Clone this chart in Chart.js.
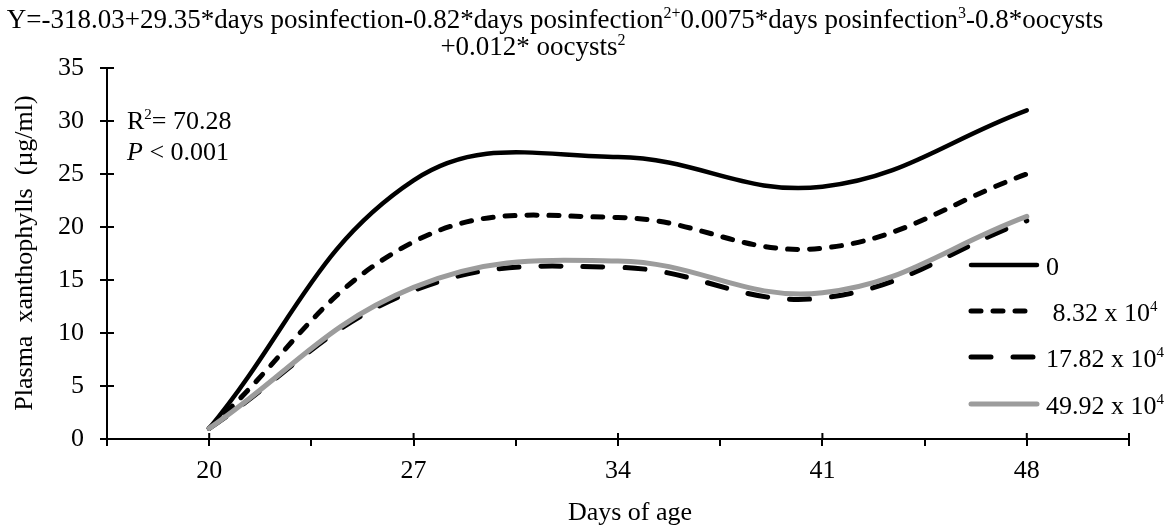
<!DOCTYPE html>
<html>
<head>
<meta charset="utf-8">
<script src="https://cdn.jsdelivr.net/npm/chart.js@4.4.1/dist/chart.umd.min.js"></script>
<style>
  html, body { margin: 0; padding: 0; background: #fff; }
  #wrap { width: 1168px; height: 528px; position: relative; }
</style>
</head>
<body>
<div id="wrap"><canvas id="chart"></canvas></div>
<script>
// ---- Data ----
const days = [20, 27, 34, 41, 48];
const xan0 = [1, 24.4, 26.6, 23.8, 31.0];      // 0 oocysts
const xan832 = [1, 18.6, 20.9, 18.0, 25.0];    // 8.32 x 10^4
const xan1782 = [1, 14.0, 16.2, 13.3, 20.6];   // 17.82 x 10^4
const xan4992 = [1, 14.3, 16.8, 13.8, 21.0];   // 49.92 x 10^4
const seriesNames = ['0', ' 8.32 x 10', '17.82 x 10', '49.92 x 10'];
const seriesSup = ['', '4', '4', '4'];
const xLabels = [20, 27, 34, 41, 48];

const SERIF = '"Liberation Serif", "Times New Roman", serif';
const FS = 26;

function pts(vals) {
  return vals.map((v, i) => ({ x: days[i], y: v }));
}

// draw text made of pieces (normal / superscript / italic)
function drawRich(ctx, parts, x, y, align, size) {
  size = size || FS;
  const fontOf = p => (p.it ? 'italic ' : '') + Math.round(p.sup ? size * 0.58 : size) + 'px ' + SERIF;
  const widths = parts.map(p => { ctx.font = fontOf(p); return ctx.measureText(p.t).width; });
  const total = widths.reduce((a, b) => a + b, 0);
  let cx = align === 'center' ? x - total / 2 : x;
  ctx.textAlign = 'left';
  ctx.textBaseline = 'middle';
  parts.forEach((p, i) => {
    ctx.font = fontOf(p);
    ctx.fillText(p.t, cx, p.sup ? y - size * 0.25 : y);
    cx += widths[i];
  });
}

const decorations = {
  id: 'decorations',
  afterDraw(chart) {
    const ctx = chart.ctx;
    const xs = chart.scales.x, ys = chart.scales.y;
    ctx.save();
    ctx.fillStyle = '#000';
    ctx.strokeStyle = '#000';
    ctx.lineWidth = 2;

    // inner half of the tick marks
    ctx.beginPath();
    ys.ticks.forEach(t => {
      const py = ys.getPixelForValue(t.value);
      ctx.moveTo(xs.left, py); ctx.lineTo(xs.left + 7, py);
    });
    xs.ticks.forEach((t, i) => {
      const major = xLabels.includes(t.value) || i === 0 || i === xs.ticks.length - 1;
      if (!major) return;
      const px = xs.getPixelForValue(t.value);
      ctx.moveTo(px, ys.bottom); ctx.lineTo(px, ys.bottom - 6);
    });
    ctx.stroke();

    // title (regression equation)
    drawRich(ctx, [
      { t: 'Y=-318.03+29.35*days posinfection-0.82*days posinfection' },
      { t: '2+', sup: true },
      { t: '0.0075*days posinfection' },
      { t: '3', sup: true },
      { t: '-0.8*oocysts' }
    ], 555, 21, 'center', 27);
    drawRich(ctx, [{ t: '+0.012* oocysts' }, { t: '2', sup: true }], 533, 48, 'center', 27);

    // fit statistics
    drawRich(ctx, [{ t: 'R' }, { t: '2', sup: true }, { t: '= 70.28' }], 127, 122, 'left');
    drawRich(ctx, [{ t: 'P', it: true }, { t: ' < 0.001' }], 127, 153, 'left');

    // axis titles
    drawRich(ctx, [{ t: 'Days of age' }], 630, 513, 'center');
    ctx.save();
    ctx.translate(25, 253);
    ctx.rotate(-Math.PI / 2);
    drawRich(ctx, [{ t: 'Plasma  xanthophylls  (\u00b5g/ml)' }], 0, 0, 'center');
    ctx.restore();

    // legend
    const rows = [265, 311, 357, 404];
    chart.data.datasets.forEach((ds, i) => {
      ctx.save();
      ctx.strokeStyle = ds.borderColor;
      ctx.lineWidth = ds.borderWidth;
      ctx.lineCap = ds.borderCapStyle;
      ctx.setLineDash(ds.borderDash || []);
      ctx.beginPath();
      ctx.moveTo(971, rows[i]); ctx.lineTo(1037, rows[i]);
      ctx.stroke();
      ctx.restore();
      drawRich(ctx, [{ t: seriesNames[i] }, { t: seriesSup[i], sup: true }], 1046, rows[i] + 3, 'left');
    });
    ctx.restore();
  }
};

new Chart(document.getElementById('chart'), {
  type: 'line',
  data: {
    datasets: [
      { label: seriesNames[0], data: pts(xan0), borderColor: '#000', borderWidth: 4.5,
        borderCapStyle: 'round', order: 1 },
      { label: seriesNames[1], data: pts(xan832), borderColor: '#000', borderWidth: 5,
        borderDash: [10, 12], borderCapStyle: 'round', order: 2 },
      { label: seriesNames[2], data: pts(xan1782), borderColor: '#000', borderWidth: 5,
        borderDash: [20, 22], borderCapStyle: 'round', order: 3 },
      { label: seriesNames[3], data: pts(xan4992), borderColor: '#9c9c9c', borderWidth: 5,
        borderCapStyle: 'round', order: 0 }
    ]
  },
  options: {
    responsive: true,
    maintainAspectRatio: false,
    animation: false,
    events: [],
    layout: { padding: { top: 68, right: 39, left: 0, bottom: 0 } },
    elements: {
      point: { radius: 0 },
      line: { tension: 0.4, fill: false }
    },
    plugins: {
      legend: { display: false },
      title: { display: false },
      tooltip: { enabled: false }
    },
    scales: {
      x: {
        type: 'linear',
        min: 16.5,
        max: 51.5,
        afterFit: s => { s.height = 89; },
        ticks: {
          stepSize: 3.5,
          autoSkip: false,
          maxRotation: 0,
          padding: 10,
          color: '#000',
          font: { family: SERIF, size: FS },
          callback: v => (xLabels.includes(v) ? String(v) : '')
        },
        grid: { drawOnChartArea: false, tickLength: 7, color: '#000', lineWidth: 2 },
        border: { color: '#000', width: 2 }
      },
      y: {
        min: 0,
        max: 35,
        afterFit: s => { s.width = 107; },
        ticks: {
          stepSize: 5,
          padding: 16,
          color: '#000',
          font: { family: SERIF, size: FS }
        },
        grid: { drawOnChartArea: false, tickLength: 7, color: '#000', lineWidth: 2 },
        border: { color: '#000', width: 2 }
      }
    }
  },
  plugins: [decorations]
});
</script>
</body>
</html>
